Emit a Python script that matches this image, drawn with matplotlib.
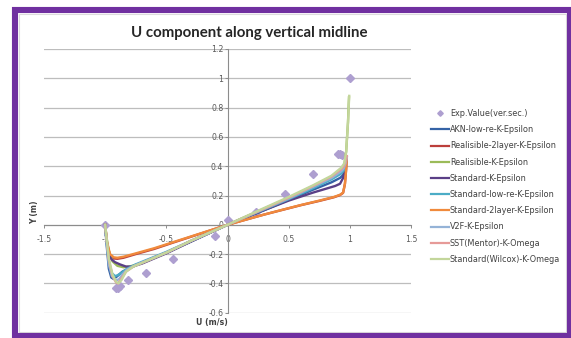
import matplotlib
matplotlib.use("Agg")
import matplotlib.pyplot as plt
from matplotlib.patches import Rectangle
from matplotlib.lines import Line2D

plt.rcParams['font.family'] = ['Lato', 'DejaVu Sans']

# Experimental points (U, Y)
u_exp = [-1.0, -0.915, -0.895, -0.875, -0.81, -0.67, -0.445, -0.10, 0.0, 0.23, 0.47, 0.70, 0.905, 0.92, 0.94, 1.0]
y_exp = [0.0, -0.43, -0.43, -0.42, -0.38, -0.33, -0.232, -0.075, 0.03, 0.088, 0.208, 0.347, 0.48, 0.48, 0.478, 1.0]

# Simulated profiles (U, Y) per turbulence model
u_akn = [-1.0, -0.99, -0.97, -0.95, -0.93, -0.9, -0.86, -0.8, -0.7, -0.5, -0.3, 0.0, 0.3, 0.5, 0.7, 0.85, 0.92, 0.945, 0.96, 0.97]
y_akn = [0.0, -0.12, -0.3, -0.36, -0.37, -0.35, -0.32, -0.295, -0.26, -0.19, -0.115, 0.0, 0.1, 0.17, 0.24, 0.29, 0.32, 0.34, 0.39, 0.45]

u_real2 = [-1.0, -0.985, -0.96, -0.93, -0.9, -0.85, -0.75, -0.6, -0.45, -0.3, -0.15, 0.0, 0.15, 0.3, 0.45, 0.6, 0.75, 0.87, 0.92, 0.945, 0.96, 0.97, 0.975]
y_real2 = [0.0, -0.13, -0.21, -0.23, -0.232, -0.225, -0.2, -0.165, -0.123, -0.082, -0.041, 0.0, 0.035, 0.07, 0.102, 0.134, 0.163, 0.188, 0.203, 0.218, 0.28, 0.38, 0.45]

u_realk = [-1.0, -0.99, -0.97, -0.94, -0.9, -0.85, -0.8, -0.7, -0.5, -0.3, 0.0, 0.3, 0.5, 0.7, 0.85, 0.93, 0.955, 0.97, 0.985, 0.993]
y_realk = [0.0, -0.08, -0.18, -0.25, -0.28, -0.29, -0.285, -0.26, -0.19, -0.11, 0.0, 0.11, 0.18, 0.26, 0.32, 0.37, 0.41, 0.5, 0.7, 0.87]

u_stdk = [-1.0, -0.99, -0.97, -0.95, -0.92, -0.88, -0.83, -0.78, -0.7, -0.5, -0.3, 0.0, 0.3, 0.5, 0.7, 0.8, 0.88, 0.92, 0.945, 0.96, 0.97]
y_stdk = [0.0, -0.1, -0.2, -0.235, -0.255, -0.27, -0.285, -0.285, -0.265, -0.195, -0.115, 0.0, 0.1, 0.165, 0.22, 0.245, 0.265, 0.28, 0.32, 0.39, 0.45]

u_stdlr = [-1.0, -0.99, -0.97, -0.945, -0.92, -0.9, -0.87, -0.82, -0.75, -0.5, -0.3, 0.0, 0.3, 0.5, 0.7, 0.85, 0.93, 0.95, 0.965, 0.975]
y_stdlr = [0.0, -0.1, -0.26, -0.33, -0.35, -0.345, -0.33, -0.3, -0.27, -0.185, -0.11, 0.0, 0.105, 0.175, 0.25, 0.31, 0.35, 0.37, 0.41, 0.46]

u_std2 = [-1.0, -0.985, -0.96, -0.93, -0.9, -0.85, -0.75, -0.6, -0.45, -0.3, -0.15, 0.0, 0.15, 0.3, 0.45, 0.6, 0.75, 0.87, 0.92, 0.945, 0.96, 0.97, 0.975]
y_std2 = [0.0, -0.12, -0.2, -0.222, -0.225, -0.218, -0.195, -0.16, -0.12, -0.08, -0.04, 0.0, 0.035, 0.07, 0.103, 0.135, 0.165, 0.19, 0.205, 0.22, 0.28, 0.38, 0.46]

u_v2f = [-1.0, -0.99, -0.97, -0.945, -0.91, -0.885, -0.86, -0.82, -0.75, -0.5, -0.3, 0.0, 0.3, 0.5, 0.7, 0.85, 0.93, 0.95, 0.965, 0.975]
y_v2f = [0.0, -0.1, -0.27, -0.35, -0.38, -0.37, -0.34, -0.305, -0.275, -0.19, -0.11, 0.0, 0.11, 0.18, 0.26, 0.32, 0.365, 0.385, 0.42, 0.46]

u_sst = [-1.0, -0.99, -0.97, -0.94, -0.91, -0.895, -0.87, -0.83, -0.77, -0.5, -0.3, 0.0, 0.3, 0.5, 0.7, 0.85, 0.93, 0.95, 0.965, 0.975]
y_sst = [0.0, -0.08, -0.24, -0.35, -0.395, -0.4, -0.37, -0.32, -0.285, -0.19, -0.11, 0.0, 0.11, 0.185, 0.265, 0.33, 0.38, 0.4, 0.43, 0.47]

u_wil = [-1.0, -0.99, -0.97, -0.94, -0.91, -0.89, -0.865, -0.83, -0.77, -0.5, -0.3, 0.0, 0.3, 0.5, 0.7, 0.85, 0.93, 0.955, 0.97, 0.985, 0.995]
y_wil = [0.0, -0.08, -0.23, -0.34, -0.39, -0.4, -0.375, -0.32, -0.285, -0.19, -0.11, 0.0, 0.115, 0.19, 0.27, 0.335, 0.39, 0.42, 0.5, 0.7, 0.88]

series = [
    ("AKN-low-re-K-Epsilon", u_akn, y_akn, "#3563A6"),
    ("Realisible-2layer-K-Epsilon", u_real2, y_real2, "#BC3F3B"),
    ("Realisible-K-Epsilon", u_realk, y_realk, "#9BBB59"),
    ("Standard-K-Epsilon", u_stdk, y_stdk, "#5A3F86"),
    ("Standard-low-re-K-Epsilon", u_stdlr, y_stdlr, "#4BACC6"),
    ("Standard-2layer-K-Epsilon", u_std2, y_std2, "#F08A3C"),
    ("V2F-K-Epsilon", u_v2f, y_v2f, "#95B3D7"),
    ("SST(Mentor)-K-Omega", u_sst, y_sst, "#E69A98"),
    ("Standard(Wilcox)-K-Omega", u_wil, y_wil, "#C3D69B"),
]

x_ticks = [-1.5, -1.0, -0.5, 0.0, 0.5, 1.0, 1.5]
x_tick_labels = ["-1.5", "-1", "-0.5", "0", "0.5", "1", "1.5"]
y_ticks = [-0.6, -0.4, -0.2, 0.0, 0.2, 0.4, 0.6, 0.8, 1.0, 1.2]
y_tick_labels = ["-0.6", "-0.4", "-0.2", "0", "0.2", "0.4", "0.6", "0.8", "1", "1.2"]

W, H = 571, 338
fig = plt.figure(figsize=(W / 100, H / 100), dpi=100)
fig.patch.set_facecolor("white")

# purple frame around the chart, with a faint inner shadow line
fig.patches.append(Rectangle((15 / W, 2 / H), 554.5 / W, (H - 9.5 - 2) / H,
                             transform=fig.transFigure, fill=False,
                             edgecolor="#7030A0", linewidth=4.4, zorder=10))
fig.patches.append(Rectangle((19.5 / W, 6 / H), 546 / W, (H - 13.5 - 6) / H,
                             transform=fig.transFigure, fill=False,
                             edgecolor="#DCDCDC", linewidth=0.8, zorder=9))

ax = fig.add_axes([44 / W, (H - 312.7) / H, 367 / W, 263.7 / H])
ax.set_xlim(-1.5, 1.5)
ax.set_ylim(-0.6, 1.2)

for s in ("top", "right"):
    ax.spines[s].set_visible(False)
ax.spines["left"].set_position(("data", 0))
ax.spines["bottom"].set_position(("data", 0))
for s in ("left", "bottom"):
    ax.spines[s].set_color("#8C8C8C")
    ax.spines[s].set_linewidth(0.8)

ax.set_xticks(x_ticks)
ax.set_xticklabels(x_tick_labels)
ax.set_yticks(y_ticks)
ax.set_yticklabels(y_tick_labels)
ax.tick_params(axis="both", labelsize=5.6, labelcolor="#595959", color="#8C8C8C",
               length=2.5, width=0.7, direction="out")
for lbl in ax.get_xticklabels() + ax.get_yticklabels():
    lbl.set_family(["DejaVu Sans"])
ax.tick_params(axis="x", pad=5)
ax.tick_params(axis="y", pad=0.5)
ax.yaxis.grid(True, color="#BDBDBD", linewidth=0.9)
ax.set_axisbelow(True)

exp_color = "#AE9FD0"
handles = [Line2D([], [], linestyle="none", marker="D", markersize=2.8,
                  color=exp_color)]
labels = ["Exp.Value(ver.sec.)"]

ax.plot(u_exp, y_exp, linestyle="none", marker="D", markersize=3.6,
        color=exp_color, zorder=3)
for name, u, y, c in series:
    ax.plot(u, y, color=c, linewidth=1.7, solid_joinstyle="round", zorder=4)
    handles.append(Line2D([], [], color=c, linewidth=1.6))
    labels.append(name)

fig.legend(handles, labels, loc="upper left", bbox_to_anchor=(431 / W, 1 - 109 / H),
           frameon=False, prop={"family": ["DejaVu Sans"], "size": 5.9},
           handlelength=2.2, handletextpad=0.1,
           labelspacing=0.88, borderpad=0, borderaxespad=0, labelcolor="#404040")

fig.text(249 / W, 1 - 33.5 / H, "U component along vertical midline", ha="center",
         va="center", fontsize=10.8, fontweight="bold", color="#262626")
fig.text(35 / W, 1 - 212 / H, "Y (m)", rotation=90, ha="center", va="center",
         fontsize=5.6, fontweight="bold", color="#404040", family=["DejaVu Sans"])
fig.text(212 / W, 1 - 323 / H, "U (m/s)", ha="center", va="center",
         fontsize=5.6, fontweight="bold", color="#404040", family=["DejaVu Sans"])

fig.savefig("out.png", dpi=100)
